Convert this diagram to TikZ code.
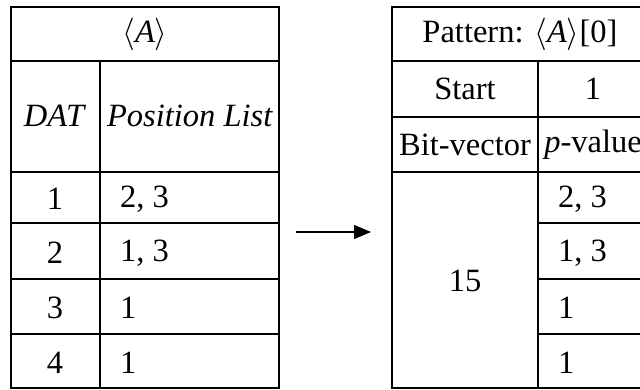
\RequirePackage{fix-cm}
\documentclass[tikz,border=0pt]{standalone}
\usepackage{fontspec}
\setmainfont{Liberation Serif}
\usetikzlibrary{arrows.meta}
\begin{document}
\begin{tikzpicture}[x=1pt,y=-1pt,
  grid/.style={line width=2.2pt, line cap=rect},
  txt/.style={inner sep=0pt, font=\fontsize{32.5}{38}\selectfont},
  ltxt/.style={txt, anchor=west},
  link/.style={line width=1.2pt, -{Triangle[length=17pt,width=14pt]}}]
\useasboundingbox (0,0) rectangle (640,390);
\begin{scope}
\clip (0,0) rectangle (640,390);
% left table
\draw[grid] (11,7) rectangle (279,388);
\draw[grid] (11,61) -- (279,61);
\draw[grid] (11,172) -- (279,172);
\draw[grid] (11,223) -- (279,223);
\draw[grid] (11,279) -- (279,279);
\draw[grid] (11,334) -- (279,334);
\draw[grid] (100,61) -- (100,388);
% right table
\draw[grid] (392,7) rectangle (648,388);
\draw[grid] (392,61) -- (648,61);
\draw[grid] (392,117) -- (648,117);
\draw[grid] (392,172) -- (648,172);
\draw[grid] (538,223) -- (648,223);
\draw[grid] (538,279) -- (648,279);
\draw[grid] (538,334) -- (648,334);
\draw[grid] (538,61) -- (538,388);
\end{scope}
% left table text
\node[txt] (lh) at (145,34) {$\langle$\textit{A}$\rangle$};
\node[txt] (ldat) at (55,116) {\textit{DAT}};
\node[txt] (lpos) at (190,116) {\textit{Position List}};
\node[txt] (l1) at (55,199) {1};
\node[txt] (l2) at (55,253) {2};
\node[txt] (l3) at (55,308) {3};
\node[txt] (l4) at (55,363) {4};
\node[ltxt] (p1) at (120,199) {2, 3};
\node[ltxt] (p2) at (120,253) {1, 3};
\node[ltxt] (p3) at (120,308) {1};
\node[ltxt] (p4) at (120,363) {1};
% right table text
\node[txt] (rh) at (520,34) {Pattern: $\langle$\textit{A}$\rangle$[0]};
\node[txt] (rs) at (465,89) {Start};
\node[txt] (rsv) at (593,89) {1};
\node[txt] (rb) at (465,145) {Bit-vector};
\node[txt] (rp) at (593,145) {\textit{p}-value};
\node[txt] (r15) at (465,281) {15};
\node[ltxt] (q1) at (558,199) {2, 3};
\node[ltxt] (q2) at (558,253) {1, 3};
\node[ltxt] (q3) at (558,308) {1};
\node[ltxt] (q4) at (558,363) {1};
% arrow
\coordinate (a0) at (296,232);
\coordinate (a1) at (371,232);
\draw[link] (a0) -- (a1);
\end{tikzpicture}
\end{document}
